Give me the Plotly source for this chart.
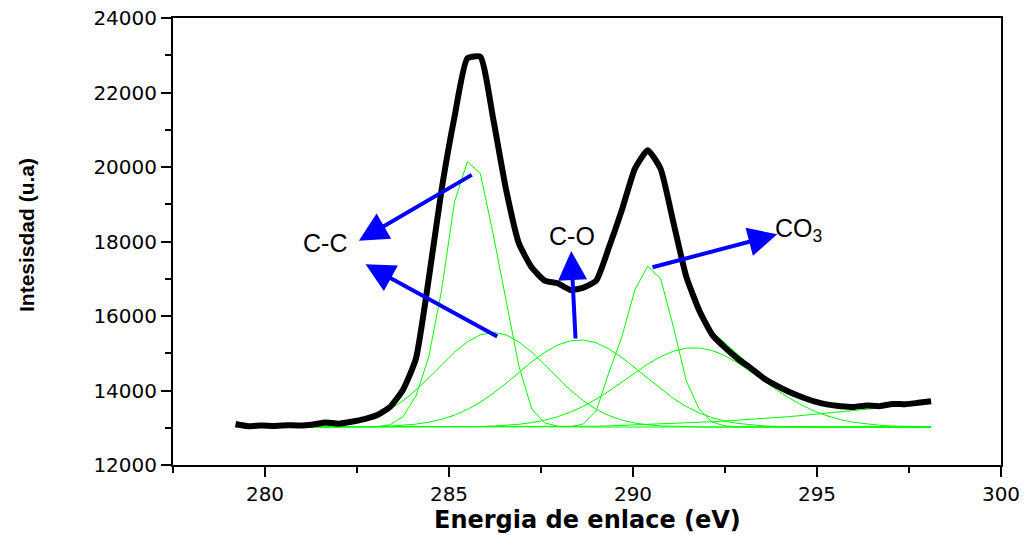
import plotly.graph_objects as go

# Binding energy grid (eV)
energy = [279.20, 279.55, 279.90, 280.25, 280.60, 280.95, 281.30, 281.65, 282.00, 282.35,
          282.70, 283.05, 283.40, 283.75, 284.10, 284.45, 284.80, 285.15, 285.50, 285.85,
          286.20, 286.55, 286.90, 287.25, 287.60, 287.95, 288.30, 288.65, 289.00, 289.35,
          289.70, 290.05, 290.40, 290.75, 291.10, 291.45, 291.80, 292.15, 292.50, 292.85,
          293.20, 293.55, 293.90, 294.25, 294.60, 294.95, 295.30, 295.65, 296.00, 296.35,
          296.70, 297.05, 297.40, 297.75, 298.10]

# Measured spectrum (black)
measured = [13100, 13040, 13060, 13050, 13070, 13060, 13090, 13140, 13110, 13160,
            13230, 13340, 13560, 14020, 14850, 17000, 19400, 21350, 22920, 22960,
            21300, 19400, 17950, 17300, 16950, 16880, 16700, 16760, 16950, 17850,
            18850, 19950, 20450, 19950, 18500, 17050, 16150, 15500, 15150, 14850,
            14600, 14330, 14130, 13960, 13820, 13700, 13620, 13580, 13560, 13600,
            13580, 13640, 13630, 13670, 13710]

# Fit components (green)
c_c_narrow = [13020]*11 + [13030, 13080, 13300, 13850, 14900, 16700, 19070, 20140, 19830,
              18200, 16400, 14650, 13500, 13130, 13040] + [13020]*29
c_c_broad = [13020, 13020, 13020, 13021, 13023, 13027, 13035, 13050, 13078, 13127,
             13205, 13325, 13495, 13724, 14010, 14340, 14690, 15027, 15307, 15495,
             15560, 15495, 15307, 15027, 14690, 14340, 14010, 13724, 13495, 13325,
             13205, 13127, 13078, 13050, 13035, 13027, 13023, 13021] + [13020]*17
c_o = [13020]*9 + [13022, 13026, 13033, 13044, 13064, 13097, 13149, 13227, 13339, 13491,
       13686, 13923, 14194, 14483, 14769, 15023, 15219, 15334, 15356, 15280,
       15115, 14883, 14607, 14317, 14036, 13783, 13569, 13399, 13270, 13179,
       13116, 13076, 13051, 13037, 13029, 13024] + [13020]*10
co3_narrow = [13020]*26 + [13025, 13100, 13450, 14500, 15450, 16700, 17340, 17000, 15700,
              14250, 13500, 13150, 13050, 13025] + [13020]*15
co3_broad = [13020]*16 + [13022, 13024, 13027, 13034, 13045, 13064, 13093, 13138, 13204,
             13296, 13419, 13576, 13767, 13987, 14228, 14474, 14707, 14907, 15056,
             15137, 15143, 15072, 14933, 14738, 14508, 14263, 14020, 13797, 13601,
             13439, 13312, 13216, 13146, 13099, 13067, 13047, 13035, 13028, 13024]
background = [13020]*27 + [13030, 13040, 13050, 13062, 13075, 13088, 13100, 13113, 13128,
              13145, 13162, 13180, 13200, 13220, 13245, 13270, 13300, 13330, 13360,
              13390, 13425, 13460, 13495, 13530, 13570, 13610, 13655, 13700]
envelope = [13020, 13020, 13020, 13020, 13023, 13027, 13035, 13050, 13078, 13127,
            13211, 13348, 13579, 14048, 14900, 16950, 19300, 21350, 22880, 22940,
            21350, 19450, 18000, 17330, 16987, 16835, 16728, 16706, 16952, 17897,
            18800, 19903, 20450, 20013, 18607, 17031, 16127, 15560, 15250, 14950,
            14650, 14400, 14180, 14000, 13850, 13730, 13650, 13600, 13580, 13574,
            13577, 13597, 13625, 13663, 13704]

# Labels: (text, x, y)
labels = [("C-C", 281.62, 17952), ("C-O", 288.34, 18148), ("CO<sub>3</sub>", 294.50, 18309)]
# Arrows: (tail_x, tail_y, head_x, head_y)
arrows = [(285.66, 19812, 282.55, 18021),
          (286.35, 15428, 282.73, 17388),
          (288.44, 15356, 288.32, 17745),
          (290.49, 17297, 293.92, 18193)]

FONT = "Liberation Sans, Arial, sans-serif"
WIDE = "DejaVu Sans, Verdana, sans-serif"

fig = go.Figure()
for comp in [c_c_narrow, c_c_broad, c_o, co3_narrow, co3_broad, background]:
    fig.add_trace(go.Scatter(x=energy, y=comp, mode="lines",
                             line=dict(color="#00FF00", width=1), showlegend=False))
fig.add_trace(go.Scatter(x=energy, y=envelope, mode="lines",
                         line=dict(color="#00FF00", width=1.5), showlegend=False))
fig.add_trace(go.Scatter(x=energy, y=measured, mode="lines",
                         line=dict(color="black", width=6, shape="spline", smoothing=0.5),
                         showlegend=False))

for (tx, ty, hx, hy) in arrows:
    fig.add_annotation(x=hx, y=hy, ax=tx, ay=ty, xref="x", yref="y", axref="x", ayref="y",
                       text="", showarrow=True, arrowhead=2, arrowsize=1.45, arrowwidth=4,
                       arrowcolor="#0000FF", standoff=0)
for (t, x, y) in labels:
    fig.add_annotation(x=x, y=y, xref="x", yref="y", text=t, showarrow=False,
                       font=dict(family=FONT, size=25, color="black"))

# Axis titles
fig.add_annotation(x=0.5, y=-0.123, xref="paper", yref="paper",
                   xanchor="center", yanchor="middle",
                   text="<b>Energia de enlace (eV)</b>", showarrow=False,
                   font=dict(family=WIDE, size=24, color="black"))
fig.add_annotation(x=-0.1763, y=0.5146, xref="paper", yref="paper", textangle=-90,
                   xanchor="center", yanchor="middle",
                   text="<b>Intesisdad (u.a)</b>", showarrow=False,
                   font=dict(family=FONT, size=21, color="black"))

axis_common = dict(ticks="outside", tickwidth=2, tickcolor="black", ticklen=10,
                   showline=True, linewidth=2, linecolor="black", mirror=True,
                   showgrid=False, zeroline=False, automargin=False,
                   tickfont=dict(family=WIDE, size=20, color="black"))

fig.update_xaxes(range=[277.5, 300], tickmode="linear", tick0=280, dtick=5,
                 minor=dict(tick0=277.5, dtick=2.5, ticks="outside", ticklen=6,
                            tickwidth=2, tickcolor="black", showgrid=False),
                 **axis_common)
fig.update_yaxes(range=[12000, 24000], tickmode="linear", tick0=12000, dtick=2000,
                 tickformat="d",
                 minor=dict(tick0=12000, dtick=1000, ticks="outside", ticklen=6,
                            tickwidth=2, tickcolor="black", showgrid=False),
                 **axis_common)

fig.update_layout(width=1026, height=535, margin=dict(l=173, r=25, t=18, b=70),
                  plot_bgcolor="white", paper_bgcolor="white")

fig.write_html("out.html")
